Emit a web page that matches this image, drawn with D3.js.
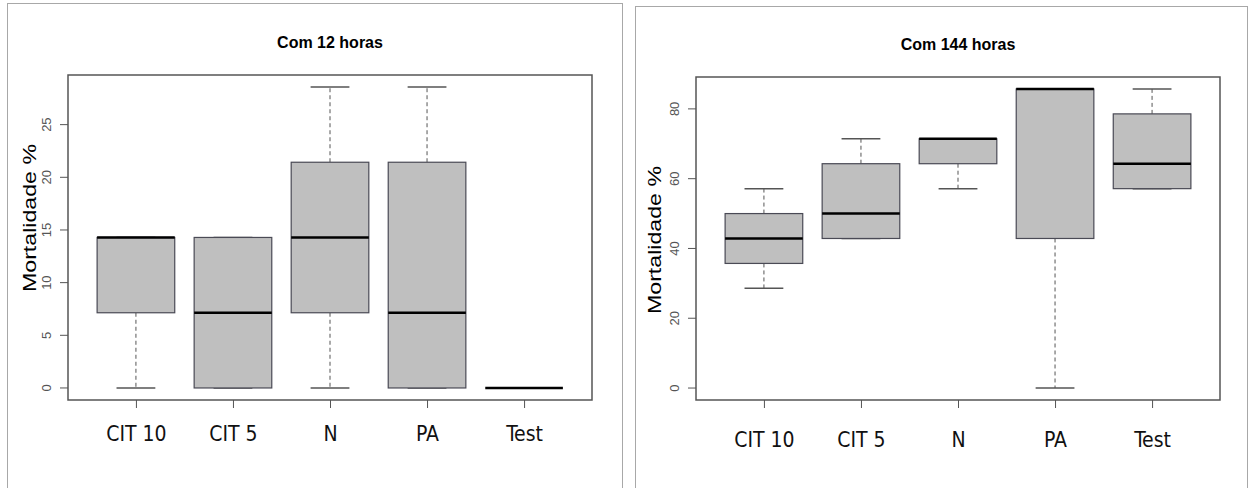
<!DOCTYPE html>
<html>
<head>
<meta charset="utf-8">
<script src="https://cdn.jsdelivr.net/npm/d3@7"></script>
<style>
  body { margin: 0; background: #fff; }
  svg { display: block; }
</style>
</head>
<body>
<svg id="chart"></svg>
<script>
// groups on the x axis
const groups = ["CIT 10", "CIT 5", "N", "PA", "Test"];

// Com 12 horas: five-number summaries
const min12 = [0, 0, 0, 0, 0];
const q1_12 = [7.14, 0, 7.14, 0, 0];
const med12 = [14.29, 7.14, 14.29, 7.14, 0];
const q3_12 = [14.29, 14.29, 21.43, 21.43, 0];
const max12 = [14.29, 14.29, 28.57, 28.57, 0];
const yTicks12 = [0, 5, 10, 15, 20, 25];

// Com 144 horas
const min144 = [28.57, 42.86, 57.14, 0, 57.14];
const q1_144 = [35.71, 42.86, 64.29, 42.86, 57.14];
const med144 = [42.86, 50, 71.43, 85.71, 64.29];
const q3_144 = [50, 64.29, 71.43, 85.71, 78.57];
const max144 = [57.14, 71.43, 71.43, 85.71, 85.71];
const yTicks144 = [0, 20, 40, 60, 80];

const width = 1253, height = 488;
const svg = d3.select("#chart").attr("width", width).attr("height", height);
svg.append("rect").attr("width", width).attr("height", height).attr("fill", "#fff");

// outer frames of the two pasted pictures
svg.append("rect").attr("x", 7.5).attr("y", 3.5).attr("width", 615).attr("height", 500)
  .attr("fill", "none").attr("stroke", "#a8a8a8");
svg.append("rect").attr("x", 635.5).attr("y", 6.5).attr("width", 612).attr("height", 500)
  .attr("fill", "none").attr("stroke", "#a8a8a8");

function drawPanel(p) {
  const rows = groups.map((g, i) => ({
    g: g, min: p.min[i], q1: p.q1[i], med: p.med[i], q3: p.q3[i], max: p.max[i]
  }));
  const lo = d3.min(p.min), hi = d3.max(p.max);
  const pad = (hi - lo) * 0.04;

  const x = d3.scalePoint().domain(groups).range([p.left, p.right]).padding(0.7);
  const y = d3.scaleLinear().domain([lo - pad, hi + pad]).range([p.bottom, p.top]);
  const bw = x.step() * 0.8;

  const g = svg.append("g");

  // title
  g.append("text")
    .attr("x", (p.left + p.right) / 2).attr("y", p.titleY)
    .attr("text-anchor", "middle")
    .style("font-family", "'Liberation Sans Narrow', 'Liberation Sans', Arial, sans-serif")
    .style("font-weight", "bold").style("font-size", "16px")
    .text(p.title);

  // boxes
  const box = g.selectAll("g.box").data(rows).enter().append("g").attr("class", "box");

  box.append("line") // upper whisker
    .attr("x1", d => x(d.g)).attr("x2", d => x(d.g))
    .attr("y1", d => y(d.q3)).attr("y2", d => y(d.max))
    .attr("stroke", "#555").attr("stroke-dasharray", "4,3");
  box.append("line") // lower whisker
    .attr("x1", d => x(d.g)).attr("x2", d => x(d.g))
    .attr("y1", d => y(d.q1)).attr("y2", d => y(d.min))
    .attr("stroke", "#555").attr("stroke-dasharray", "4,3");
  box.append("line") // caps
    .attr("x1", d => x(d.g) - bw / 4).attr("x2", d => x(d.g) + bw / 4)
    .attr("y1", d => y(d.max)).attr("y2", d => y(d.max))
    .attr("stroke", "#555").attr("stroke-width", 1.5);
  box.append("line")
    .attr("x1", d => x(d.g) - bw / 4).attr("x2", d => x(d.g) + bw / 4)
    .attr("y1", d => y(d.min)).attr("y2", d => y(d.min))
    .attr("stroke", "#555").attr("stroke-width", 1.5);
  box.append("rect")
    .attr("x", d => x(d.g) - bw / 2).attr("width", bw)
    .attr("y", d => y(d.q3)).attr("height", d => y(d.q1) - y(d.q3))
    .attr("fill", "#bfbfbf").attr("stroke", "#4a4a55").attr("stroke-width", 1.2);
  box.append("line") // median
    .attr("x1", d => x(d.g) - bw / 2).attr("x2", d => x(d.g) + bw / 2)
    .attr("y1", d => y(d.med)).attr("y2", d => y(d.med))
    .attr("stroke", "#000").attr("stroke-width", 2.6);

  // plot frame
  g.append("rect")
    .attr("x", p.left).attr("y", p.top)
    .attr("width", p.right - p.left).attr("height", p.bottom - p.top)
    .attr("fill", "none").attr("stroke", "#555").attr("stroke-width", 1.5);

  // y axis
  const ya = g.append("g").attr("transform", "translate(" + p.left + ",0)")
    .call(d3.axisLeft(y).tickValues(p.yTicks).tickSize(8).tickSizeOuter(0));
  ya.select(".domain").remove();
  ya.selectAll("line").attr("stroke", "#555");
  ya.selectAll("text")
    .attr("transform", function (d) { return "rotate(-90," + (-22) + "," + y(d) + ")"; })
    .attr("x", -22).attr("y", d => y(d)).attr("dy", "0.35em")
    .attr("text-anchor", "middle")
    .attr("fill", "#555")
    .style("font-family", "'Liberation Sans', Arial, sans-serif").style("font-size", "13px");
  ya.selectAll(".tick").attr("transform", null);
  ya.selectAll(".tick line").attr("y1", d => y(d)).attr("y2", d => y(d));

  // x axis
  const xa = g.append("g").attr("transform", "translate(0," + p.bottom + ")")
    .call(d3.axisBottom(x).tickSize(8).tickSizeOuter(0));
  xa.select(".domain").remove();
  xa.selectAll("line").attr("stroke", "#555");
  xa.selectAll("text")
    .attr("y", p.xLabelY - p.bottom).attr("dy", 0)
    .attr("fill", "#111")
    .style("font-family", "'Liberation Sans Narrow', 'DejaVu Sans Condensed', sans-serif")
    .style("font-size", "21px");

  // y label
  g.append("text")
    .attr("transform", "translate(" + p.yLabelX + "," + p.yLabelY + ") rotate(-90)")
    .attr("text-anchor", "middle").attr("dy", "0.35em")
    .attr("textLength", 148).attr("lengthAdjust", "spacingAndGlyphs")
    .style("font-family", "'Liberation Sans', Arial, sans-serif").style("font-size", "19px")
    .text("Mortalidade %");
}

drawPanel({
  title: "Com 12 horas", titleY: 48,
  left: 68, right: 592, top: 75, bottom: 400,
  min: min12, q1: q1_12, med: med12, q3: q3_12, max: max12, yTicks: yTicks12,
  xLabelY: 441, yLabelX: 29, yLabelY: 218
});

drawPanel({
  title: "Com 144 horas", titleY: 50,
  left: 696, right: 1220, top: 77, bottom: 400,
  min: min144, q1: q1_144, med: med144, q3: q3_144, max: max144, yTicks: yTicks144,
  xLabelY: 447, yLabelX: 654, yLabelY: 240
});
</script>
</body>
</html>
